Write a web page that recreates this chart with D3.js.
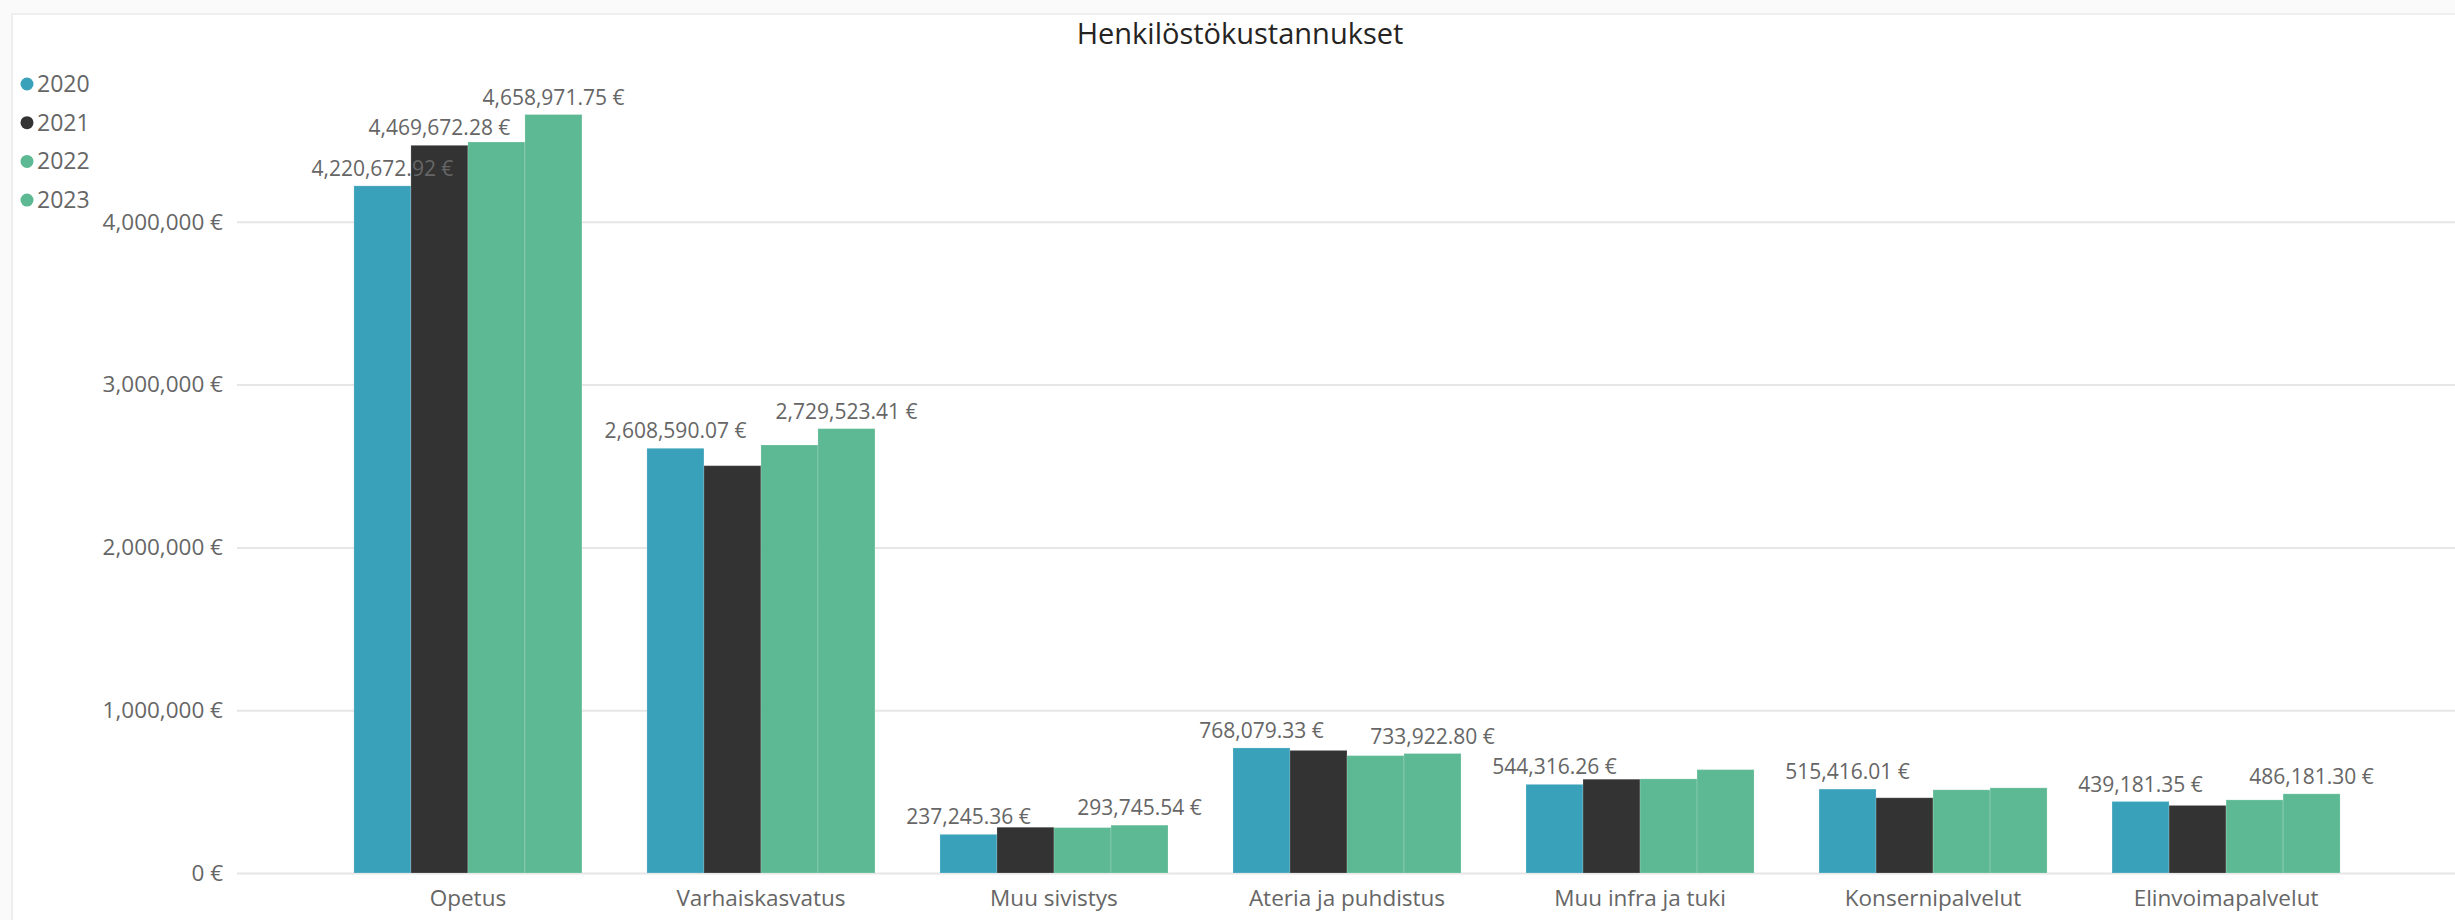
<!DOCTYPE html>
<html>
<head>
<meta charset="utf-8">
<script src="https://cdn.jsdelivr.net/npm/d3@7"></script>
<style>
  html, body { margin: 0; padding: 0; background: #ffffff; }
  svg { display: block; }
  text { font-family: "Segoe UI", "Open Sans", sans-serif; }
</style>
</head>
<body>
<svg id="chart" width="2455" height="920"></svg>
<script>
const title = "Henkilöstökustannukset";
const categories = ["Opetus", "Varhaiskasvatus", "Muu sivistys", "Ateria ja puhdistus", "Muu infra ja tuki", "Konsernipalvelut", "Elinvoimapalvelut"];
const seriesNames = ["2020", "2021", "2022", "2023"];
const values2020 = [4220672.92, 2608590.07, 237245.36, 768079.33, 544316.26, 515416.01, 439181.35];
const values2021 = [4469672.28, 2502000, 281000, 753000, 576000, 462000, 415000];
const values2022 = [4490000, 2629000, 279000, 721000, 578000, 511000, 449000];
const values2023 = [4658971.75, 2729523.41, 293745.54, 733922.80, 635000, 523000, 486181.30];
const yTicks = [0, 1000000, 2000000, 3000000, 4000000];
// which bars carry a data label: [categoryIndex, seriesIndex]
const labelledBars = [[0,0],[0,1],[0,3],[1,0],[1,3],[2,0],[2,3],[3,0],[3,3],[4,0],[5,0],[6,0],[6,3]];

const colors = ["#3AA1BA", "#333333", "#5DB994", "#5DB994"];
const allValues = [values2020, values2021, values2022, values2023];

const svg = d3.select("#chart");

// frame
svg.append("rect").attr("x", 0).attr("y", 0).attr("width", 2455).attr("height", 920).attr("fill", "#fafafa");
svg.append("rect").attr("x", 12).attr("y", 14).attr("width", 2450).attr("height", 910)
  .attr("fill", "#ffffff").attr("stroke", "#eeeeee").attr("stroke-width", 2);

const x0 = d3.scaleBand().domain(categories).range([237, 2457]).paddingInner(0.2218).paddingOuter(0.399);
const x1 = d3.scaleBand().domain(seriesNames).range([0, x0.bandwidth()]).padding(0);
const y = d3.scaleLinear().domain([0, 5000000]).range([873, 59]);

const fmtAxis = v => d3.format(",")(v) + " €";
const fmtLabel = v => d3.format(",.2f")(v) + " €";

// gridlines + y labels
const yAxis = d3.axisLeft(y).tickValues(yTicks).tickSize(-(2457 - 237)).tickPadding(14).tickFormat(fmtAxis);
const gy = svg.append("g").attr("transform", "translate(237,0)").call(yAxis);
gy.select(".domain").remove();
gy.selectAll(".tick line").attr("stroke", "#e6e6e6").attr("stroke-width", 2);
gy.selectAll(".tick text").attr("fill", "#666666").attr("font-size", "22.5px")
  .attr("font-family", "'Segoe UI', 'Open Sans', sans-serif");

// x axis labels
const xAxis = d3.axisBottom(x0).tickSize(0).tickPadding(17);
const gx = svg.append("g").attr("transform", "translate(0,873)").call(xAxis);
gx.select(".domain").remove();
gx.selectAll(".tick text").attr("fill", "#666666").attr("font-size", "22.5px")
  .attr("font-family", "'Segoe UI', 'Open Sans', sans-serif");

// bars
const data = [];
categories.forEach((c, ci) => {
  seriesNames.forEach((s, si) => {
    data.push({cat: c, ci, series: s, si, value: allValues[si][ci]});
  });
});

svg.append("g").selectAll("rect").data(data).join("rect")
  .attr("x", d => x0(d.cat) + x1(d.series))
  .attr("y", d => y(d.value))
  .attr("width", x1.bandwidth())
  .attr("height", d => y(0) - y(d.value))
  .attr("fill", d => colors[d.si])
  .attr("stroke", "rgba(255,255,255,0.18)")
  .attr("stroke-width", 1);

// data labels
const labelData = labelledBars.map(([ci, si]) => data.find(d => d.ci === ci && d.si === si));
svg.append("g").selectAll("text").data(labelData).join("text")
  .attr("x", d => x0(d.cat) + x1(d.series) + x1.bandwidth() / 2)
  .attr("y", d => y(d.value) - 10)
  .attr("text-anchor", "middle")
  .attr("font-size", "21px")
  .attr("fill", "#666666")
  .text(d => fmtLabel(d.value));

// legend
const legend = svg.append("g");
seriesNames.forEach((s, i) => {
  const cy = 84 + i * 38.7;
  legend.append("circle").attr("cx", 27).attr("cy", cy).attr("r", 6.5).attr("fill", colors[i]);
  legend.append("text").attr("x", 37).attr("y", cy).attr("dy", "0.35em")
    .attr("font-size", "23px").attr("fill", "#666666").text(s);
});

// title
svg.append("text").attr("x", 1240).attr("y", 44).attr("text-anchor", "middle")
  .attr("font-size", "29px").attr("fill", "#252423").text(title);
</script>
</body>
</html>
